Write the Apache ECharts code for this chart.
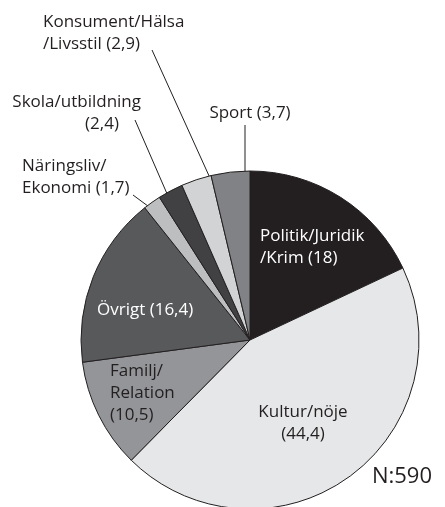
<!DOCTYPE html>
<html>
<head>
<meta charset="utf-8">
<script src="https://cdn.jsdelivr.net/npm/echarts@6/dist/echarts.min.js"></script>
<style>
html, body { margin: 0; padding: 0; background: #fff; }
#chartDiv { width: 445px; height: 507px; }
</style>
</head>
<body>
<div id="chartDiv"></div>
<script>
// kategorier, medurs från klockan tolv
var categories = ['Politik/Juridik\n/Krim', 'Kultur/nöje', 'Familj/\nRelation', 'Övrigt',
	'Näringsliv/\nEkonomi', 'Skola/utbildning', 'Konsument/Hälsa\n/Livsstil', 'Sport'];
var values = [18, 44.4, 10.5, 16.4, 1.7, 2.4, 2.9, 3.7];
var valueLabels = ['18', '44,4', '10,5', '16,4', '1,7', '2,4', '2,9', '3,7'];
var colors = ['#231f20', '#e6e7e8', '#939598', '#58595b', '#bcbec0', '#414042', '#d1d3d4', '#808285'];
var sampleSize = 590;

// textens placering (x, y, justering, linjepunkter)
var labelPos = [
	{x: 260, y: 247, align: 'left'},
	{x: 303, y: 423, align: 'center'},
	{x: 110, y: 393, align: 'left'},
	{x: 97, y: 310, align: 'left'},
	{x: 22, y: 177, align: 'left', line: [[160, 215], [133, 195]]},
	{x: 141, y: 113, align: 'right', line: [[168, 196], [135, 120]]},
	{x: 43, y: 33, align: 'left', line: [[210, 178], [152, 50]]},
	{x: 250, y: 113, align: 'center', line: [[245, 180], [245, 125]]}
];

function labelText(i)
{
	var name = categories[i];
	var v = '(' + valueLabels[i] + ')';
	if (i == 1) return name + '\n' + v;
	if (i == 2) return name + '\n' + v;
	if (i == 5) return name + '\n' + v + '     ';
	return name + ' ' + v;
}

var chart = echarts.init(document.getElementById('chartDiv'));
var data = [];
for (var i = 0; i < values.length; i++) {
	var inside = i < 4;
	data.push({
		value: values[i],
		name: categories[i],
		itemStyle: {color: colors[i]},
		label: {
			position: inside ? 'inside' : 'outside',
			color: (i == 0 || i == 3) ? '#ffffff' : '#231f20'
		},
		labelLine: {show: !inside}
	});
}

var option = {
	animation: false,
	title: {
		text: 'N:' + sampleSize,
		right: 8,
		top: 461,
		textStyle: {
			fontSize: 22,
			fontWeight: 'normal',
			color: '#231f20',
			fontFamily: 'Open Sans'
		}
	},
	series: [{
		type: 'pie',
		center: [250, 340],
		radius: 169,
		startAngle: 90,
		clockwise: true,
		itemStyle: {
			borderColor: '#231f20',
			borderWidth: 1
		},
		emphasis: {disabled: true},
		label: {
			fontSize: 17,
			lineHeight: 22,
			fontFamily: 'Open Sans',
			overflow: 'none',
			formatter: function(p) { return labelText(p.dataIndex); }
		},
		labelLine: {
			lineStyle: {color: '#231f20', width: 1}
		},
		labelLayout: function(p) {
			var pos = labelPos[p.dataIndex];
			var res = {x: pos.x, y: pos.y, align: pos.align, verticalAlign: 'middle', width: 200};
			if (pos.line) res.labelLinePoints = pos.line;
			return res;
		},
		data: data
	}]
};
chart.setOption(option);
</script>
</body>
</html>
